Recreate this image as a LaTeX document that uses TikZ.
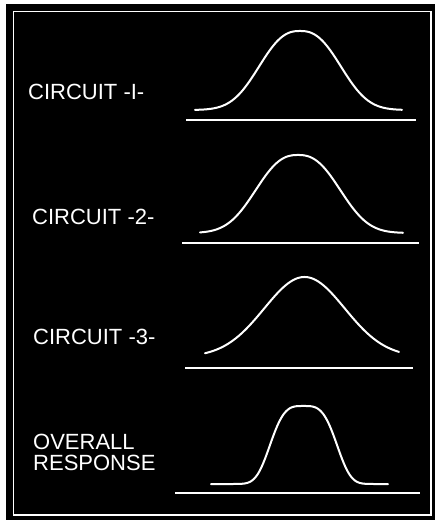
\documentclass[tikz,border=0pt]{standalone}
\usepackage{fontspec}
\setmainfont{Liberation Sans}

\begin{document}
\begin{tikzpicture}[
  x=1pt, y=-1pt,
  tag/.style={
    anchor=west, inner sep=0pt,
    text=white, align=left,
    font=\fontsize{22}{21}\selectfont
  },
  trace/.style={draw=white, line width=2pt, line cap=round, line join=round},
  axis/.style={draw=white, line width=2pt}
]
  % sheet and frame
  \fill[white] (0,0) rectangle (435,520);
  \fill[black] (6,4) rectangle (435,520);
  \draw[white, line width=1.8pt] (13.5,11.5) rectangle (431,515);

  \node[tag] (circ1)   at (28,92)  {CIRCUIT -I-};
  \node[tag] (circ2)   at (32,217) {CIRCUIT -2-};
  \node[tag] (circ3)   at (33,337) {CIRCUIT -3-};
  \node[tag] (overall) at (33,452) {OVERALL\\RESPONSE};

  % zero lines
  \draw[axis] (186,120) -- (416,120);
  \draw[axis] (182,243) -- (419,243);
  \draw[axis] (185,368) -- (413,368);
  \draw[axis] (175,493) -- (420,493);

  % response curves: from/to, tail level, height, centre, spread, power
  \foreach \xa/\xb/\tail/\hgt/\ctr/\spread/\pw in {
      195/402/110/79/300/50.3/2.5,
      200/403/233/78/298/52/2.5,
      205/399/357/80/304.5/57/2,
      211/388/484/78/303.5/37.2/3.5}
    \draw[trace] plot[domain=\xa:\xb, samples=140, smooth]
      (\x, {\tail - \hgt*exp(-min(20,(abs(\x-\ctr)/\spread+0.0001)^\pw))});
\end{tikzpicture}
\end{document}
